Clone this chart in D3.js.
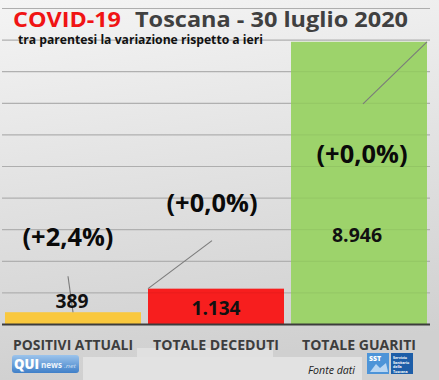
<!DOCTYPE html>
<html><head><meta charset="utf-8">
<script src="https://cdn.jsdelivr.net/npm/d3@7"></script>
<style>html,body{margin:0;padding:0;background:#ddd;}svg{display:block;font-family:"Open Sans",Lato,sans-serif;}</style>
</head><body>
<script>
const categories = ["POSITIVI ATTUALI", "TOTALE DECEDUTI", "TOTALE GUARITI"];
const values = [389, 1134, 8946];
const valueLabels = ["389", "1.134", "8.946"];
const changeLabels = ["(+2,4%)", "(+0,0%)", "(+0,0%)"];
const yTicks = [0,1000,2000,3000,4000,5000,6000,7000,8000,9000,10000];

const W = 439, H = 380;
const svg = d3.select("body").append("svg").attr("width", W).attr("height", H);
const defs = svg.append("defs");
const bg = defs.append("linearGradient").attr("id","bg").attr("x1",0).attr("y1",0).attr("x2",0.15).attr("y2",1);
bg.append("stop").attr("offset","0%").attr("stop-color","#f4f4f4");
bg.append("stop").attr("offset","100%").attr("stop-color","#d0d0d0");
const qg = defs.append("linearGradient").attr("id","qg").attr("x1",0).attr("y1",0).attr("x2",0).attr("y2",1);
qg.append("stop").attr("offset","0%").attr("stop-color","#9cc4ec");
qg.append("stop").attr("offset","100%").attr("stop-color","#3f7fc8");

svg.append("rect").attr("width",W).attr("height",H).attr("fill","url(#bg)");

const x = d3.scaleBand().domain(categories).range([5, 427]).paddingInner(0.049).paddingOuter(0);
const y = d3.scaleLinear().domain([0, 10000]).range([324.5, 8.5]);
const color = d3.scaleOrdinal().domain(categories).range(["#f9c83e", "#f71e1e", "#9dd36b"]);

// gridlines
svg.append("g").selectAll("line").data(yTicks.slice(1)).join("line")
  .attr("x1", 2).attr("x2", 430).attr("y1", d => y(d)).attr("y2", d => y(d))
  .attr("stroke", "#b9b9b9").attr("stroke-width", 1.2);

// bars
svg.append("g").selectAll("rect").data(values).join("rect")
  .attr("x", (d,i) => x(categories[i])).attr("width", x.bandwidth())
  .attr("y", d => y(d)).attr("height", d => y(0) - y(d))
  .attr("fill", (d,i) => color(categories[i]));

// faint gridlines through the bars
svg.append("g").selectAll("line").data(yTicks.slice(1)).join("line")
  .attr("x1", 2).attr("x2", 430).attr("y1", d => y(d)).attr("y2", d => y(d))
  .attr("stroke", "#000").attr("stroke-opacity", 0.06).attr("stroke-width", 1);

// baseline
svg.append("line").attr("x1", 2).attr("x2", 430).attr("y1", y(0)).attr("y2", y(0))
  .attr("stroke", "#3c3c3c").attr("stroke-width", 2.2);

// leader lines
const cx = i => x(categories[i]) + x.bandwidth()/2;
const leaders = [
  [cx(0)-5, y(values[0])-36, cx(0), y(values[0])],
  [x(categories[1]), y(values[1]), cx(1)-4, y(values[1])-48],
  [cx(2)+4, y(values[2])+62, x(categories[2]) + x.bandwidth(), y(values[2])]
];
svg.append("g").selectAll("line").data(leaders).join("line")
  .attr("x1", d => d[0]).attr("y1", d => d[1]).attr("x2", d => d[2]).attr("y2", d => d[3])
  .attr("stroke", "#7a7a7a").attr("stroke-width", 1.1);

// value labels
const valPos = [[cx(0)-1, y(values[0])-4], [cx(1), y(values[1])+26], [cx(2)-2, y(values[2])+200]];
const valW = [33, 49, 50];
svg.append("g").selectAll("text").data(valueLabels).join("text")
  .attr("x", (d,i) => valPos[i][0]).attr("y", (d,i) => valPos[i][1])
  .attr("text-anchor", "middle").attr("font-size", 20).attr("font-weight", 700).attr("fill", "#111")
  .attr("textLength", (d,i) => valW[i]).attr("lengthAdjust", "spacingAndGlyphs")
  .text(d => d);

// change labels
const chgPos = [[cx(0)-5, 246], [cx(1)-4, 212], [cx(2)+3, 162.5]];
svg.append("g").selectAll("text").data(changeLabels).join("text")
  .attr("x", (d,i) => chgPos[i][0]).attr("y", (d,i) => chgPos[i][1])
  .attr("text-anchor", "middle").attr("font-size", 25).attr("font-weight", 700).attr("fill", "#0a0a0a")
  .attr("textLength", 91).attr("lengthAdjust", "spacingAndGlyphs")
  .text(d => d);

// lighter patches at the bottom
svg.append("rect").attr("x", 137).attr("y", 348).attr("width", 136).attr("height", 10).attr("fill", "#e0e0e0");
svg.append("rect").attr("x", 83).attr("y", 357).attr("width", 279).attr("height", 23).attr("fill", "#e2e2e2");

// category labels
const catW = [120, 126, 114];
svg.append("g").selectAll("text").data(categories).join("text")
  .attr("x", (d,i) => cx(i)).attr("y", 350)
  .attr("text-anchor", "middle").attr("font-size", 14).attr("font-weight", 700).attr("fill", "#3d3d3d")
  .attr("textLength", (d,i) => catW[i]).attr("lengthAdjust", "spacingAndGlyphs")
  .text(d => d);

// title
svg.append("text").attr("x", 13).attr("y", 27).attr("font-size", 22).attr("font-weight", 700)
  .attr("fill", "#f01414").attr("textLength", 108).attr("lengthAdjust", "spacingAndGlyphs").text("COVID-19");
svg.append("text").attr("x", 135).attr("y", 27).attr("font-size", 22).attr("font-weight", 700)
  .attr("fill", "#404040").attr("textLength", 273).attr("lengthAdjust", "spacingAndGlyphs").text("Toscana - 30 luglio 2020");
svg.append("text").attr("x", 18).attr("y", 44).attr("font-size", 11.5).attr("font-weight", 700)
  .attr("fill", "#111").attr("textLength", 245).attr("lengthAdjust", "spacingAndGlyphs").text("tra parentesi la variazione rispetto a ieri");

// QUI news logo
const q = svg.append("g");
q.append("rect").attr("x", 12).attr("y", 355).attr("width", 67).attr("height", 18).attr("rx", 3).attr("fill", "url(#qg)");
q.append("text").attr("x", 14).attr("y", 369).attr("font-size", 14).attr("font-weight", 800).attr("fill", "#fff")
  .attr("textLength", 25).attr("lengthAdjust", "spacingAndGlyphs").text("QUI");
q.append("text").attr("x", 41).attr("y", 368).attr("font-size", 9).attr("font-weight", 700).attr("fill", "#eef4fb")
  .attr("textLength", 21).attr("lengthAdjust", "spacingAndGlyphs").text("news");
q.append("text").attr("x", 64).attr("y", 368).attr("font-size", 6).attr("font-style", "italic").attr("fill", "#cfe0f3")
  .attr("textLength", 12).attr("lengthAdjust", "spacingAndGlyphs").text(".net");

// Fonte dati
svg.append("text").attr("x", 308).attr("y", 374).attr("font-size", 10).attr("font-style", "italic")
  .attr("fill", "#222").attr("textLength", 47).attr("lengthAdjust", "spacingAndGlyphs").text("Fonte dati");

// SST logo
const s = svg.append("g");
s.append("rect").attr("x", 367).attr("y", 353).attr("width", 22).attr("height", 21).attr("fill", "#4d94d8");
s.append("text").attr("x", 369).attr("y", 361).attr("font-size", 7).attr("font-weight", 800).attr("fill", "#fff").text("SST");
s.append("path").attr("d", "M370,372 L376,364 L380,368 L386,363 L388,372 Z").attr("fill", "#b9d6f2");
s.append("rect").attr("x", 391).attr("y", 353).attr("width", 22).attr("height", 21).attr("fill", "#1d5ea8");
["Servizio","Sanitario","della","Toscana"].forEach((t,i) => {
  s.append("text").attr("x", 393).attr("y", 359 + i*4.5).attr("font-size", 3.6).attr("font-weight", 700).attr("fill", "#fff").text(t);
});
</script>
</body></html>
